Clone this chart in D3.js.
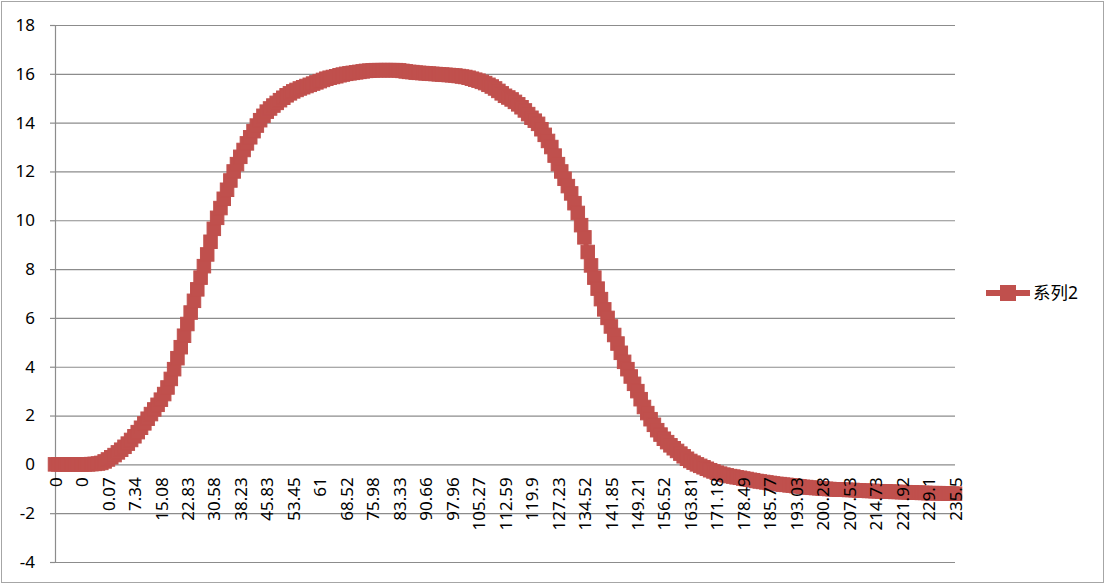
<!DOCTYPE html>
<meta charset="utf-8">
<script src="https://d3js.org/d3.v7.min.js"></script>
<style>
  body { margin: 0; background: #fff; }
  text { font-family: "Noto Sans", "Noto Sans CJK SC", sans-serif; fill: #000; }
</style>
<body>
<svg id="chart" width="1106" height="585"></svg>
<script>

// series values (系列2), one per category
var seriesValues = [
  0, 0, 0, 0, 0, 0, 0, 0, 0, 0,
  0, 0.01, 0.02, 0.035, 0.06, 0.12, 0.2, 0.29, 0.38, 0.49,
  0.6, 0.72, 0.85, 1.0, 1.15, 1.32, 1.5, 1.68, 1.87, 2.06,
  2.25, 2.44, 2.65, 2.88, 3.15, 3.5, 3.9, 4.35, 4.8, 5.27,
  5.75, 6.22, 6.7, 7.17, 7.65, 8.12, 8.6, 9.12, 9.65, 10.1,
  10.5, 10.88, 11.25, 11.63, 12.0, 12.3, 12.6, 12.88, 13.15, 13.4,
  13.65, 13.88, 14.1, 14.28, 14.45, 14.58, 14.7, 14.81, 14.92, 15.02,
  15.12, 15.2, 15.28, 15.34, 15.4, 15.45, 15.5, 15.55, 15.6, 15.65,
  15.7, 15.75, 15.8, 15.84, 15.87, 15.9, 15.94, 15.97, 16.0, 16.02,
  16.04, 16.06, 16.08, 16.1, 16.12, 16.13, 16.14, 16.15, 16.15, 16.15,
  16.15, 16.15, 16.15, 16.15, 16.14, 16.12, 16.1, 16.08, 16.07, 16.05,
  16.04, 16.03, 16.02, 16.01, 16.0, 15.99, 15.98, 15.97, 15.96, 15.95,
  15.94, 15.93, 15.91, 15.89, 15.87, 15.84, 15.8, 15.76, 15.72, 15.67,
  15.62, 15.55, 15.48, 15.4, 15.3, 15.2, 15.1, 15.03, 14.95, 14.85,
  14.75, 14.63, 14.5, 14.35, 14.2, 14.08, 13.95, 13.73, 13.5, 13.25,
  13.0, 12.65, 12.3, 12.0, 11.7, 11.4, 11.1, 10.7, 10.3, 9.8,
  9.3, 8.7, 8.15, 7.65, 7.2, 6.77, 6.35, 6.0, 5.65, 5.3,
  4.95, 4.57, 4.2, 3.9, 3.6, 3.3, 3.0, 2.67, 2.35, 2.1,
  1.85, 1.62, 1.4, 1.22, 1.05, 0.91, 0.78, 0.66, 0.55, 0.44,
  0.33, 0.23, 0.14, 0.07, 0, -0.06, -0.12, -0.18, -0.24, -0.29,
  -0.34, -0.38, -0.42, -0.45, -0.48, -0.5, -0.53, -0.55, -0.58, -0.6,
  -0.63, -0.65, -0.68, -0.7, -0.72, -0.74, -0.76, -0.78, -0.8, -0.81,
  -0.83, -0.84, -0.86, -0.87, -0.89, -0.9, -0.92, -0.93, -0.95, -0.96,
  -0.97, -0.98, -0.99, -1.0, -1.01, -1.02, -1.03, -1.03, -1.04, -1.04,
  -1.05, -1.05, -1.06, -1.07, -1.08, -1.08, -1.09, -1.09, -1.1, -1.1,
  -1.11, -1.11, -1.12, -1.12, -1.13, -1.13, -1.14, -1.14, -1.15, -1.15,
  -1.16, -1.16, -1.17, -1.17, -1.18, -1.18, -1.18, -1.18, -1.19, -1.19,
  -1.2, -1.2, -1.2
];

// category labels shown on the x axis (every 8th category)
var xTickLabels = ["0", "0", "0.07", "7.34", "15.08", "22.83", "30.58", "38.23",
  "45.83", "53.45", "61", "68.52", "75.98", "83.33", "90.66", "97.96", "105.27",
  "112.59", "119.9", "127.23", "134.52", "141.85", "149.21", "156.52", "163.81",
  "171.18", "178.49", "185.77", "193.03", "200.28", "207.53", "214.73", "221.92",
  "229.1", "235.5"];
var labelStep = 8;

var yTicks = [-4, -2, 0, 2, 4, 6, 8, 10, 12, 14, 16, 18];
var seriesName = "系列2";

var svg = d3.select("#chart");
var color = "#C0504D";

// chart border
svg.append("rect")
  .attr("x", 1.5).attr("y", 1.5)
  .attr("width", 1102).attr("height", 581)
  .attr("fill", "#fff")
  .attr("stroke", "#a6a6a6");

var plotLeft = 55, plotRight = 955, plotTop = 25, plotBottom = 562;

var x = d3.scalePoint()
  .domain(d3.range(seriesValues.length))
  .range([plotLeft, plotRight]);

var y = d3.scaleLinear()
  .domain([-4, 18])
  .range([plotBottom, plotTop]);

// gridlines
svg.append("g")
  .attr("transform", "translate(" + plotLeft + ",0)")
  .call(d3.axisLeft(y).tickValues(yTicks).tickSize(-(plotRight - plotLeft)).tickFormat(""))
  .call(function(g) {
    g.select(".domain").remove();
    g.selectAll("line").attr("stroke", "#8c8c8c").attr("stroke-width", 1.2);
  });

// y axis (plain hyphen for negatives, like the original)
svg.append("g")
  .attr("transform", "translate(" + plotLeft + ",0)")
  .call(d3.axisLeft(y).tickValues(yTicks).tickSize(5).tickPadding(15)
    .tickFormat(function(d) { return String(d); }))
  .call(function(g) {
    g.select(".domain").attr("stroke", "#8c8c8c").attr("stroke-width", 1.2);
    g.selectAll("line").attr("stroke", "#8c8c8c").attr("stroke-width", 1.2);
    g.selectAll("text").style("font-size", "17px");
  });

// series line + square markers
var line = d3.line()
  .x(function(d, i) { return x(i); })
  .y(function(d) { return y(d); });

svg.append("path")
  .datum(seriesValues)
  .attr("d", line)
  .attr("fill", "none")
  .attr("stroke", color)
  .attr("stroke-width", 5);

var ms = 13.5;
svg.append("g")
  .selectAll("rect")
  .data(seriesValues)
  .enter()
  .append("rect")
    .attr("x", function(d, i) { return x(i) - ms / 2; })
    .attr("y", function(d) { return y(d) - ms / 2; })
    .attr("width", ms)
    .attr("height", ms)
    .attr("fill", color)
    .attr("stroke", color)
    .attr("stroke-width", 1);

// x axis labels, rotated, drawn over the series
var labelIdx = d3.range(0, seriesValues.length, labelStep);
svg.append("g")
  .attr("transform", "translate(0," + y(0) + ")")
  .call(d3.axisBottom(x).tickValues(labelIdx).tickSize(0)
    .tickFormat(function(d, i) { return xTickLabels[i]; }))
  .call(function(g) {
    g.select(".domain").remove();
    g.selectAll("text")
      .style("font-size", "17px")
      .attr("text-anchor", "end")
      .attr("transform", "rotate(-90)")
      .attr("x", -13)
      .attr("y", 0)
      .attr("dy", "0.36em");
  });

// legend
var lg = svg.append("g").attr("transform", "translate(986,293)");
lg.append("line")
  .attr("x1", 0).attr("x2", 44)
  .attr("stroke", color).attr("stroke-width", 6);
lg.append("rect")
  .attr("x", 14).attr("y", -8).attr("width", 16).attr("height", 16)
  .attr("fill", color);
lg.append("text")
  .attr("x", 47).attr("dy", "0.36em")
  .style("font-size", "17.5px")
  .text(seriesName);

</script>
</body>
